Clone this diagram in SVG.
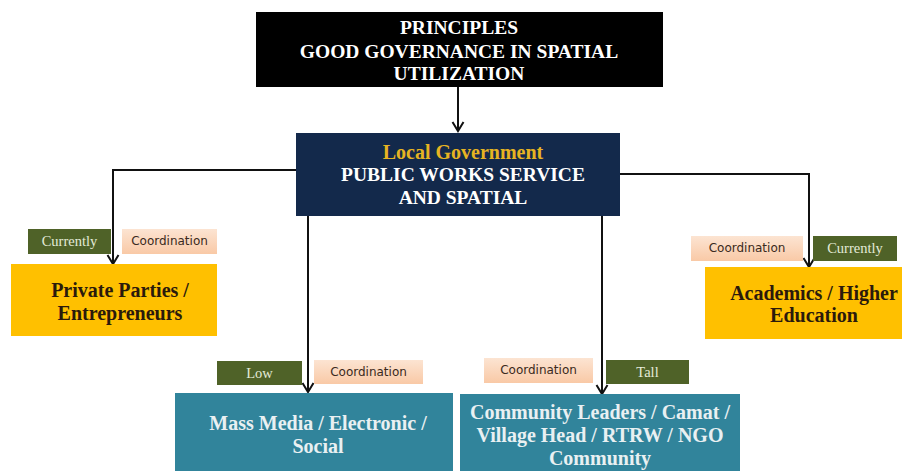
<svg xmlns="http://www.w3.org/2000/svg" width="902" height="471" viewBox="0 0 902 471">
<defs>
<marker id="arr" viewBox="0 0 14 14" refX="12" refY="7" markerWidth="14" markerHeight="14" markerUnits="userSpaceOnUse" orient="auto">
<polyline points="3,1.5 12,7 3,12.5" fill="none" stroke="#111" stroke-width="2"/>
</marker>
<linearGradient id="peach" x1="0" y1="0" x2="0" y2="1">
<stop offset="0" stop-color="#FCE4D2"/>
<stop offset="1" stop-color="#F9C9A6"/>
</linearGradient>
<style>
.main{font-family:"Liberation Serif","Times New Roman",serif;font-weight:bold;text-anchor:middle;font-size:20px}
.w{fill:#ffffff;font-size:19.5px}
.gold{fill:#E6B422}
.brown{fill:#2B1A0C}
.teal{fill:#E9F0F2}
.tag{font-family:"Liberation Serif","Times New Roman",serif;font-size:14.5px;fill:#E4EBD8;text-anchor:middle}
.coord{font-family:"DejaVu Sans","Verdana",sans-serif;font-size:12px;fill:#3A2A20;text-anchor:middle}
.olive{fill:#4F6228}
.pch{fill:url(#peach)}
.conn{fill:none;stroke:#111;stroke-width:2}
</style>
</defs>
<rect width="902" height="471" fill="#ffffff"/>

<g id="connectors">
<line class="conn" x1="458" y1="87" x2="458" y2="131" marker-end="url(#arr)"/>
<polyline class="conn" points="296,170 113,170 113,264" marker-end="url(#arr)"/>
<polyline class="conn" points="620,174 809,174 809,267" marker-end="url(#arr)"/>
<line class="conn" x1="308" y1="216" x2="308" y2="392" marker-end="url(#arr)"/>
<line class="conn" x1="602" y1="216" x2="602" y2="394" marker-end="url(#arr)"/>
</g>

<g id="principles">
<rect x="256" y="12" width="407" height="75" fill="#000000"/>
<text class="main w" x="459" y="34">PRINCIPLES</text>
<text class="main w" x="459" y="58">GOOD GOVERNANCE IN SPATIAL</text>
<text class="main w" x="459" y="80">UTILIZATION</text>
</g>

<g id="local-government">
<rect x="296" y="133" width="324" height="83" fill="#13294B"/>
<text class="main gold" x="463" y="159">Local Government</text>
<text class="main w" x="463" y="181">PUBLIC WORKS SERVICE</text>
<text class="main w" x="463" y="204">AND SPATIAL</text>
</g>

<g id="private-parties">
<rect x="11" y="264" width="206" height="72" fill="#FFC000"/>
<text class="main brown" x="120" y="297">Private Parties /</text>
<text class="main brown" x="120" y="320">Entrepreneurs</text>
</g>
<g id="private-tags">
<rect class="olive" x="28" y="229" width="83" height="25"/>
<text class="tag" x="69.5" y="246">Currently</text>
<rect class="pch" x="122" y="229" width="95" height="25"/>
<text class="coord" x="169.5" y="245">Coordination</text>
</g>

<g id="academics">
<rect x="705" y="267" width="210" height="72" fill="#FFC000"/>
<text class="main brown" x="814" y="300">Academics / Higher</text>
<text class="main brown" x="814" y="322">Education</text>
</g>
<g id="academics-tags">
<rect class="pch" x="691" y="236" width="112" height="25"/>
<text class="coord" x="747" y="252">Coordination</text>
<rect class="olive" x="813" y="236" width="84" height="25"/>
<text class="tag" x="855" y="253">Currently</text>
</g>

<g id="mass-media">
<rect x="175" y="393" width="278" height="80" fill="#31849B"/>
<text class="main teal" x="318" y="430">Mass Media / Electronic /</text>
<text class="main teal" x="318" y="453">Social</text>
</g>
<g id="mass-media-tags">
<rect class="olive" x="217" y="361" width="85" height="24"/>
<text class="tag" x="259.5" y="378">Low</text>
<rect class="pch" x="314" y="360" width="109" height="24"/>
<text class="coord" x="368.5" y="376">Coordination</text>
</g>

<g id="community">
<rect x="460" y="394" width="280" height="80" fill="#31849B"/>
<text class="main teal" x="600" y="419">Community Leaders / Camat /</text>
<text class="main teal" x="600" y="442">Village Head / RTRW  / NGO</text>
<text class="main teal" x="600" y="465">Community</text>
</g>
<g id="community-tags">
<rect class="pch" x="484" y="358" width="109" height="25"/>
<text class="coord" x="538.5" y="374">Coordination</text>
<rect class="olive" x="606" y="360" width="83" height="24"/>
<text class="tag" x="647.5" y="377">Tall</text>
</g>
</svg>
